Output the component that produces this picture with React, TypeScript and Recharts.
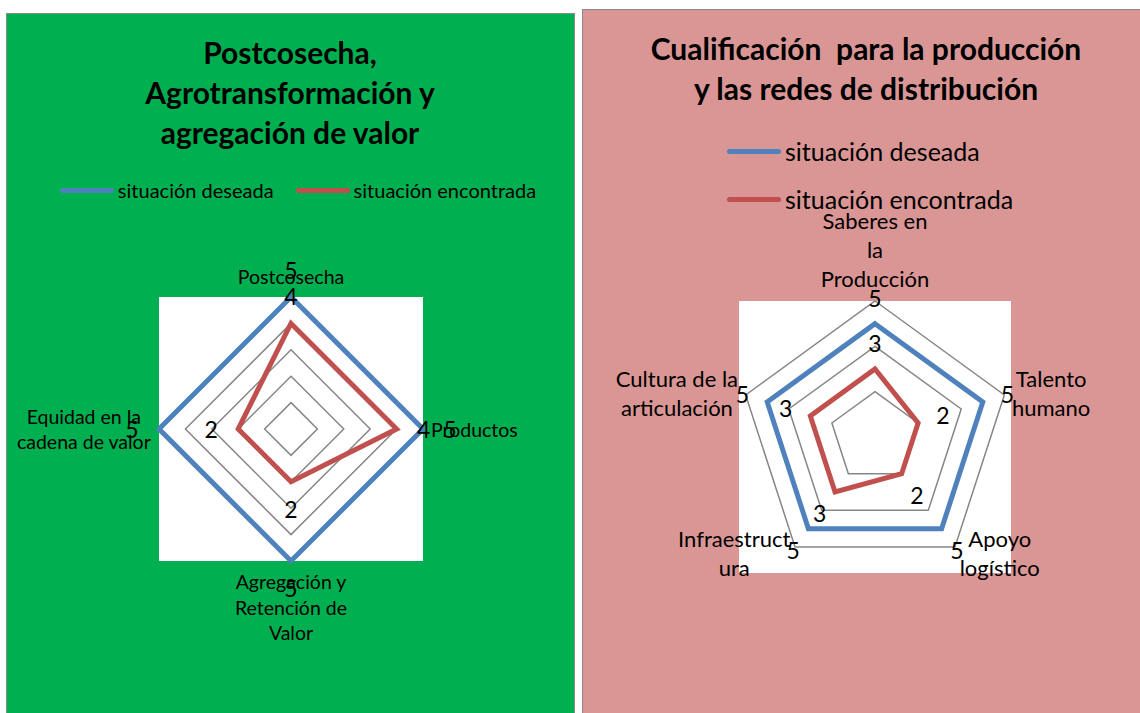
import React from "react";
import {
  RadarChart,
  Radar,
  PolarGrid,
  PolarAngleAxis,
  PolarRadiusAxis,
  Legend,
  LabelList,
} from "recharts";

const FONT = "Lato, 'Open Sans', sans-serif";
const BLUE = "#4F81BD";
const RED = "#C0504D";
const GRID = "#868686";

const seriesNames = ["situación deseada", "situación encontrada"];

const leftTitle = "Postcosecha,\nAgrotransformación y\nagregación de valor";
const leftCategories = [
  "Postcosecha",
  "Productos",
  "Agregación y\nRetención de\nValor",
  "Equidad en la\ncadena de valor",
];
const leftDesired = [5, 5, 5, 5];
const leftFound = [4, 4, 2, 2];

const rightTitle = "Cualificación  para la producción\ny las redes de distribución";
const rightCategories = [
  "Saberes en\nla\nProducción",
  "Talento\nhumano",
  "Apoyo\nlogístico",
  "Infraestruct\nura",
  "Cultura de la\narticulación",
];
const rightDesired = [5, 5, 5, 5, 5];
const rightFound = [3, 2, 2, 3, 3];

const buildData = (cats: string[], desired: number[], found: number[]) =>
  cats.map((name, i) => ({ name, deseada: desired[i], encontrada: found[i] }));

let measureCtx: CanvasRenderingContext2D | null = null;
function textWidth(s: string, size: number) {
  if (!measureCtx && typeof document !== "undefined") {
    measureCtx = document.createElement("canvas").getContext("2d");
  }
  if (!measureCtx) return s.length * size * 0.5;
  measureCtx.font = `${size}px Lato`;
  return measureCtx.measureText(s).width;
}

function AngleTick(props: any) {
  const { x, y, payload, centerX, centerY, fontSize, lineHeight } = props;
  const lines = String(payload.value).split("\n");
  const dx = x - centerX;
  const dy = y - centerY;
  const len = Math.sqrt(dx * dx + dy * dy) || 1;
  const ux = dx / len;
  const uy = dy / len;
  const w = Math.max(...lines.map((l) => textWidth(l, fontSize)));
  const h = lines.length * lineHeight;
  let boxX = x;
  let boxY = y;
  if (Math.abs(ux) < 0.01) {
    boxY = y + Math.sign(uy) * (h / 2);
  } else {
    boxX = x + Math.sign(ux) * (w / 2);
    boxY = y;
  }
  return (
    <g>
      {lines.map((l, i) => (
        <text
          key={i}
          x={boxX}
          y={boxY - h / 2 + lineHeight * (i + 0.5)}
          textAnchor="middle"
          dominantBaseline="central"
          fontFamily={FONT}
          fontSize={fontSize}
          fill="#000"
        >
          {l}
        </text>
      ))}
    </g>
  );
}

function ValueLabel(props: any) {
  const { value, centerX, centerY, fontSize, offset } = props;
  const px = props.x ?? props.viewBox?.x;
  const py = props.y ?? props.viewBox?.y;
  if (px == null || py == null) return null;
  const dx = px - centerX;
  const dy = py - centerY;
  const len = Math.sqrt(dx * dx + dy * dy) || 1;
  return (
    <text
      x={px + (dx / len) * offset}
      y={py + (dy / len) * offset}
      textAnchor="middle"
      dominantBaseline="central"
      fontFamily={FONT}
      fontSize={fontSize}
      fill="#000"
    >
      {value}
    </text>
  );
}

function LegendBox(props: any) {
  const { payload, vertical, fontSize, rowGap } = props;
  return (
    <div
      style={{
        display: "flex",
        flexDirection: vertical ? "column" : "row",
        justifyContent: vertical ? "flex-start" : "center",
        alignItems: vertical ? "flex-start" : "center",
        gap: rowGap,
        fontFamily: FONT,
        fontSize,
        color: "#000",
      }}
    >
      {(payload || []).map((entry: any) => (
        <div key={entry.value} style={{ display: "flex", alignItems: "center" }}>
          <div
            style={{
              width: 54,
              height: 5,
              borderRadius: 3,
              background: entry.color,
              marginRight: 4,
            }}
          />
          <span style={{ lineHeight: 1 }}>{entry.value}</span>
        </div>
      ))}
    </div>
  );
}

interface PanelProps {
  left: number;
  width: number;
  title: string;
  titleLeft: number;
  titleWidth: number;
  titleTop: number;
  data: any[];
  cx: number;
  cy: number;
  radius: number;
  domainMax: number;
  tickCount: number;
  tickFont: number;
  tickLineHeight: number;
  valueFont: number;
  valueOffset: number;
  legendStyle: React.CSSProperties;
  legendVertical: boolean;
  legendFont: number;
  legendGap: number;
}

function RadarPanel(p: PanelProps) {
  return (
    <>
      <div
        style={{
          position: "absolute",
          left: p.left + p.cx - p.radius,
          top: p.cy - p.radius,
          width: p.radius * 2,
          height: p.radius * 2,
          background: "#fff",
        }}
      />
      <div
        style={{
          position: "absolute",
          left: p.titleLeft,
          top: p.titleTop,
          width: p.titleWidth,
          textAlign: "center",
          whiteSpace: "pre",
          fontFamily: FONT,
          fontWeight: 700,
          fontSize: 30,
          lineHeight: "40px",
          color: "#000",
        }}
      >
        {p.title}
      </div>
      <div style={{ position: "absolute", left: p.left, top: 0 }}>
        <RadarChart
          width={p.width}
          height={713}
          data={p.data}
          cx={p.cx}
          cy={p.cy}
          outerRadius={p.radius}
          margin={{ top: 0, right: 0, bottom: 0, left: 0 }}
        >
          <PolarGrid gridType="polygon" radialLines={false} stroke={GRID} strokeWidth={1.5} />
          <PolarAngleAxis
            dataKey="name"
            axisLine={false}
            tickLine={false}
            tick={(t: any) => (
              <AngleTick
                {...t}
                centerX={p.cx}
                centerY={p.cy}
                fontSize={p.tickFont}
                lineHeight={p.tickLineHeight}
              />
            )}
          />
          <PolarRadiusAxis
            domain={[0, p.domainMax]}
            tickCount={p.tickCount}
            tick={false}
            axisLine={false}
          />
          <Radar
            name={seriesNames[0]}
            dataKey="deseada"
            stroke={BLUE}
            strokeWidth={5}
            fill="none"
            fillOpacity={0}
            isAnimationActive={false}
          >
            <LabelList
              dataKey="deseada"
              content={(l: any) => (
                <ValueLabel
                  {...l}
                  centerX={p.cx}
                  centerY={p.cy}
                  fontSize={p.valueFont}
                  offset={p.valueOffset}
                />
              )}
            />
          </Radar>
          <Radar
            name={seriesNames[1]}
            dataKey="encontrada"
            stroke={RED}
            strokeWidth={5}
            fill="none"
            fillOpacity={0}
            isAnimationActive={false}
          >
            <LabelList
              dataKey="encontrada"
              content={(l: any) => (
                <ValueLabel
                  {...l}
                  centerX={p.cx}
                  centerY={p.cy}
                  fontSize={p.valueFont}
                  offset={p.valueOffset}
                />
              )}
            />
          </Radar>
          <Legend
            wrapperStyle={{ position: "absolute", ...p.legendStyle }}
            content={(lp: any) => (
              <LegendBox
                {...lp}
                vertical={p.legendVertical}
                fontSize={p.legendFont}
                rowGap={p.legendGap}
              />
            )}
          />
        </RadarChart>
      </div>
    </>
  );
}

export default function App() {
  const leftData = buildData(leftCategories, leftDesired, leftFound);
  const rightData = buildData(rightCategories, rightDesired, rightFound);
  return (
    <div
      style={{
        position: "absolute",
        left: 0,
        top: 0,
        width: 1140,
        height: 713,
        overflow: "hidden",
        background: "#fff",
      }}
    >
      <div
        style={{
          position: "absolute",
          left: 6,
          top: 13,
          width: 567,
          height: 720,
          background: "#00B050",
          border: "1.5px solid #8A8A8A",
        }}
      />
      <div
        style={{
          position: "absolute",
          left: 582,
          top: 9,
          width: 580,
          height: 720,
          background: "#D99694",
          border: "1.5px solid #8A8A8A",
        }}
      />
      <RadarPanel
        left={0}
        width={580}
        title={leftTitle}
        titleLeft={0}
        titleWidth={580}
        titleTop={32}
        data={leftData}
        cx={291}
        cy={429}
        radius={132}
        domainMax={5}
        tickCount={6}
        tickFont={19.5}
        tickLineHeight={25.5}
        valueFont={23}
        valueOffset={27}
        legendStyle={{ left: 8, top: 180, width: 580 }}
        legendVertical={false}
        legendFont={20}
        legendGap={22}
      />
      <RadarPanel
        left={580}
        width={560}
        title={rightTitle}
        titleLeft={583}
        titleWidth={566}
        titleTop={28}
        data={rightData}
        cx={295}
        cy={437}
        radius={136}
        domainMax={6}
        tickCount={4}
        tickFont={22}
        tickLineHeight={29}
        valueFont={23}
        valueOffset={26}
        legendStyle={{ left: 147, top: 139, width: 420 }}
        legendVertical={true}
        legendFont={25}
        legendGap={23}
      />
    </div>
  );
}
